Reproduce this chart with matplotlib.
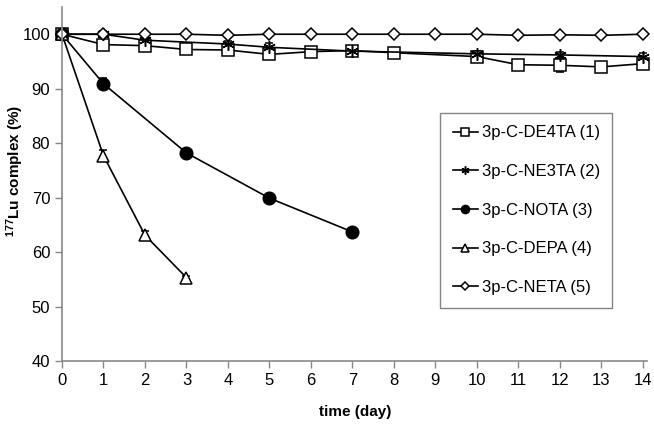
import matplotlib.pyplot as plt

plt.rcParams['font.family'] = ['Liberation Sans', 'DejaVu Sans']

# data
days_de4ta = [0, 1, 2, 3, 4, 5, 6, 7, 8, 10, 11, 12, 13, 14]
de4ta = [100, 98.1, 97.9, 97.2, 97.1, 96.3, 96.8, 97.0, 96.6, 95.9, 94.4, 94.3, 94.0, 94.6]
de4ta_err = [0, 0.8, 0.5, 0.3, 0.5, 0.6, 0.4, 0.3, 0.3, 0.6, 0.3, 1.2, 0.3, 0.6]

days_ne3ta = [0, 1, 2, 4, 5, 7, 10, 12, 14]
ne3ta = [100, 100, 98.9, 98.2, 97.6, 96.9, 96.4, 96.2, 95.9]
ne3ta_err = [0, 0.6, 0.5, 0.6, 0.7, 0.6, 0.5, 0.6, 0.6]

days_nota = [0, 1, 3, 5, 7]
nota = [100, 90.9, 78.2, 69.9, 63.7]
nota_err = [0, 1.0, 0.3, 0.3, 0.3]

days_depa = [0, 1, 2, 3]
depa = [100, 77.7, 63.1, 55.3]
depa_err = [0, 1.0, 0.8, 0.3]

days_neta = list(range(15))
neta = [100, 100, 100, 100, 99.8, 100, 100, 100, 100, 100, 100, 99.8, 99.9, 99.8, 100]

labels = ['3p-C-DE4TA (1)', '3p-C-NE3TA (2)', '3p-C-NOTA (3)', '3p-C-DEPA (4)', '3p-C-NETA (5)']
x_ticks = list(range(15))
y_ticks = [40, 50, 60, 70, 80, 90, 100]

fig = plt.figure(figsize=(6.54, 4.26), dpi=100)
ax = fig.add_axes([62 / 654, 1 - 361 / 426, 585 / 654, 354 / 426])

series = [
    (days_de4ta, de4ta, de4ta_err, dict(marker='s', mfc='white', ms=8)),
    (days_ne3ta, ne3ta, ne3ta_err, dict(marker=(6, 2, 0), ms=9)),
    (days_nota, nota, nota_err, dict(marker='o', mfc='black', ms=9)),
    (days_depa, depa, depa_err, dict(marker='^', mfc='white', ms=8)),
    (days_neta, neta, None, dict(marker='D', mfc='white', ms=6.5)),
]
handles = []
for (xs, ys, err, style), lab in zip(series, labels):
    h = ax.errorbar(xs, ys, yerr=err, color='black', lw=1.2, mec='black', mew=1.1,
                    ecolor='black', elinewidth=1, capsize=3, clip_on=False, label=lab, **style)
    handles.append(h[0])

ax.set_xlim(0, 14.1)
ax.set_ylim(40, 105)
ax.set_xticks(x_ticks)
ax.set_yticks(y_ticks)
ax.tick_params(labelsize=12, color='#888888', length=5, width=1, direction='out')
for s in ['top', 'right']:
    ax.spines[s].set_visible(False)
for s in ['left', 'bottom']:
    ax.spines[s].set_color('#888888')
    ax.spines[s].set_linewidth(1.2)

ax.set_xlabel('time (day)', fontsize=11, fontweight='bold')
ax.xaxis.set_label_coords((355 - 62) / 585, (361 - 412) / 354)
ax.xaxis.label.set_va('center')
ax.set_ylabel(r'$\mathregular{^{177}}$Lu complex (%)', fontsize=11, fontweight='bold')
ax.yaxis.set_label_coords((15 - 62) / 585, (361 - 171) / 354)
ax.yaxis.label.set_va('center')

leg = ax.legend(handles, labels, loc='upper left', bbox_to_anchor=((440 - 62) / 585, (361 - 113) / 354),
                borderaxespad=0, frameon=True, fancybox=False, edgecolor='#666666', fontsize=12,
                labelspacing=1.42, handlelength=1.5, handletextpad=0.25, borderpad=0.75,
                markerscale=0.65)
leg.get_frame().set_linewidth(1)

fig.savefig('out.png', dpi=100)
